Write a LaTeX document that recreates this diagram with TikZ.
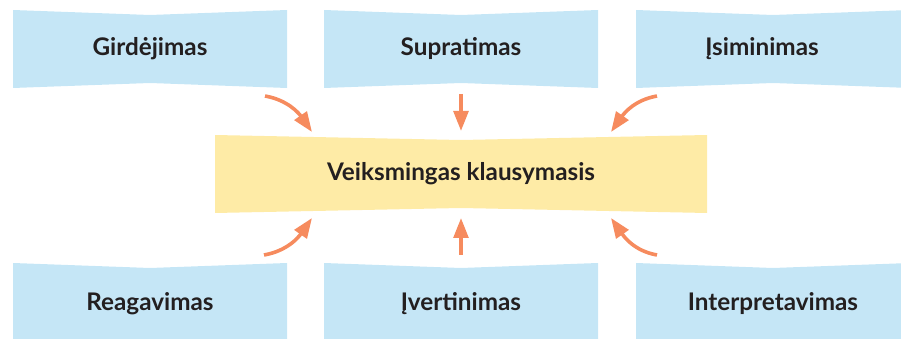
\documentclass[tikz,border=0pt]{standalone}
\usepackage{fontspec}
\setmainfont{Lato}
\usetikzlibrary{arrows.meta}
\definecolor{boxblue}{HTML}{C5E6F6}
\definecolor{boxyellow}{HTML}{FEEBA6}
\definecolor{arrorange}{HTML}{F68B5E}
\definecolor{txtdark}{HTML}{231F20}
\newcommand{\dip}{5}
% [node options] name, x left, y bottom, x right, y top, fill, text
\newcommand{\wavybox}[8][]{%
  \fill[#7] (#3,#4) -- ({(#3+#5)/2},{#4+\dip}) -- (#5,#4) -- (#5,#6)
    -- ({(#3+#5)/2},{#6-\dip}) -- (#3,#6) -- cycle;
  \node[boxtext,#1] (#2) at ({(#3+#5)/2},{(#4+#6)/2}) {#8};
}

\begin{document}
\begin{tikzpicture}[x=0.75pt, y=0.75pt,
    boxtext/.style={font=\bfseries\fontsize{18.2}{20}\selectfont, text=txtdark, inner sep=0pt},
    flow/.style={draw=arrorange, line width=2.7pt, -{Triangle[length=15pt,width=11pt]}}]
  \useasboundingbox (0,0) rectangle (901,339);

  \wavybox{gird}{13}{251}{287}{329}{boxblue}{Girdėjimas}
  \wavybox{supr}{324}{251}{598}{329}{boxblue}{Supratimas}
  \wavybox[xshift=-8.25pt]{isim}{636}{251}{910}{329}{boxblue}{Įsiminimas}

  \wavybox{veik}{215}{126}{707}{204}{boxyellow}{Veiksmingas klausymasis}

  \wavybox{reag}{13}{-6}{287}{76}{boxblue}{Reagavimas}
  \wavybox{iver}{324}{-6}{598}{76}{boxblue}{Įvertinimas}
  \wavybox{inte}{636}{-6}{910}{76}{boxblue}{Interpretavimas}

  % arrow ends
  \coordinate (s1) at (265,243);
  \coordinate (s2) at (461,245);
  \coordinate (s3) at (657,243);
  \coordinate (s4) at (264,84);
  \coordinate (s5) at (461,84);
  \coordinate (s6) at (657,84);
  \coordinate (e1) at (312,207);
  \coordinate (e2) at (461,208);
  \coordinate (e3) at (611,207);
  \coordinate (e4) at (312,121);
  \coordinate (e5) at (461,121);
  \coordinate (e6) at (611,121);

  \draw[flow] (s1) to[out=-10,in=125] (e1);
  \draw[flow] (s2) -- (e2);
  \draw[flow] (s3) to[out=190,in=55] (e3);
  \draw[flow] (s4) to[out=10,in=235] (e4);
  \draw[flow] (s5) -- (e5);
  \draw[flow] (s6) to[out=170,in=305] (e6);
\end{tikzpicture}
\end{document}
